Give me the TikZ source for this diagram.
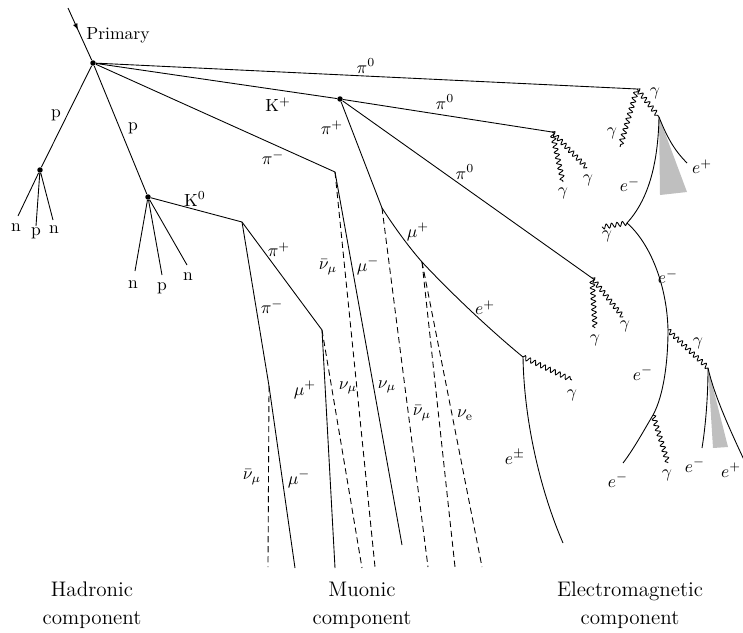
\documentclass[tikz,border=0pt]{standalone}
\usetikzlibrary{arrows.meta,decorations.pathmorphing,decorations.markings}

\tikzset{
  vtx/.style={fill,circle,inner sep=1.1pt},
  photon/.style={decorate,decoration={snake,segment length=3.1pt,amplitude=1.3pt}},
  neutrino/.style={dash pattern=on 3.5pt off 2.2pt},
  shower/.style={fill=black!25,draw=none},
  comp/.style={font=\large,align=center},
}

\begin{document}
\begin{tikzpicture}[x=0.02cm,y=-0.02cm,line width=0.5pt]
\useasboundingbox (0,0) rectangle (743,632);

% The interaction points
\coordinate (beam) at (68,8);
\node[vtx] (prim) at (93,63) {};
\node[vtx] (pl) at (40,170) {};
\node[vtx] (pr) at (148,197) {};
\node[vtx] (kp) at (340,99) {};
\coordinate (kz) at (242,222);
\coordinate (pimA) at (335,172);
\coordinate (pimB) at (269,386);
\coordinate (pipB) at (322,330);
\coordinate (pipK) at (382,208);
\coordinate (mudec) at (422,262);
\coordinate (edec) at (523,357);
\coordinate (pzA) at (637,89);
\coordinate (pzB) at (552,132);
\coordinate (pzC) at (592,278);
\coordinate (convA) at (659,117);
\coordinate (convB) at (708,368);
\coordinate (bremA) at (627,223);
\coordinate (bremB) at (668,330);
\coordinate (bremC) at (653,415);

% Free ends
\coordinate (nlA) at (18,216);  \coordinate (plB) at (36,226);  \coordinate (nlC) at (53,220);
\coordinate (nrA) at (135,271); \coordinate (prB) at (162,275); \coordinate (nrC) at (187,265);
\coordinate (muA) at (402,545); \coordinate (muB) at (335,568); \coordinate (muC) at (295,568);
\coordinate (nuA) at (375,567); \coordinate (nuB) at (362,568); \coordinate (nuC) at (268,567);
\coordinate (nuD) at (428,567); \coordinate (nuE) at (455,567); \coordinate (nuF) at (482,567);
\coordinate (epmEnd) at (563,543);
\coordinate (gA) at (620,147); \coordinate (gB) at (563,182); \coordinate (gC) at (587,168);
\coordinate (gD) at (595,328); \coordinate (gE) at (623,317); \coordinate (gF) at (602,227);
\coordinate (gG) at (668,463); \coordinate (gH) at (572,380);
\coordinate (epA) at (687,163); \coordinate (emA) at (623,463);
\coordinate (emB) at (702,448); \coordinate (epB) at (745,462);

% Showers
\fill[shower] (convA) -- (660,195) -- (687,192) -- cycle;
\fill[shower] (convB) -- (713,448) -- (728,447) -- cycle;

% Primary particle
\draw[postaction={decorate},decoration={markings,
  mark=at position 0.42 with {\arrow{Latex[length=3.6pt,width=2.8pt]}}}]
  (beam) -- (prim);

% Hadronic part
\draw (prim) -- (pl);
\draw (prim) -- (pr);
\draw (pl) -- (nlA) (pl) -- (plB) (pl) -- (nlC);
\draw (pr) -- (nrA) (pr) -- (prB) (pr) -- (nrC);
\draw (pr) -- (kz);
\draw (kz) -- (pipB);
\draw (kz) -- (pimB) -- (muC);
\draw (pipB) -- (muB);

% Pions and kaon from the first vertex
\draw (prim) -- (pzA);
\draw (prim) -- (kp);
\draw (prim) -- (pimA) -- (muA);
\draw (kp) -- (pzB);
\draw (kp) -- (pzC);
\draw (kp) -- (pipK);
\draw (pipK) .. controls (395,228) and (408,246) .. (mudec)
  .. controls (450,292) and (490,330) .. (edec);
\draw (edec) .. controls (524,420) and (540,490) .. (epmEnd);

% Neutrinos
\draw[neutrino] (pimA) -- (nuA);
\draw[neutrino] (pipB) -- (nuB);
\draw[neutrino] (pimB) -- (nuC);
\draw[neutrino] (pipK) -- (nuD);
\draw[neutrino] (mudec) -- (nuE);
\draw[neutrino] (mudec) -- (nuF);

% Photons
\draw[photon] (pzA) -- (convA);
\draw[photon] (pzA) -- (gA);
\draw[photon] (pzB) -- (gB);
\draw[photon] (pzB) -- (gC);
\draw[photon] (pzC) -- (gD);
\draw[photon] (pzC) -- (gE);
\draw[photon] (bremA) -- (gF);
\draw[photon] (bremB) -- (convB);
\draw[photon] (bremC) -- (gG);
\draw[photon] (edec) -- (gH);

% Electromagnetic cascade
\draw (convA) .. controls (668,140) and (676,152) .. (epA);
\draw (convA) .. controls (658,165) and (648,200) .. (bremA)
  .. controls (650,243) and (667,285) .. (bremB)
  .. controls (668,360) and (664,395) .. (bremC)
  .. controls (643,432) and (633,450) .. (emA);
\draw (convB) .. controls (708,400) and (705,430) .. (emB);
\draw (convB) .. controls (714,395) and (730,430) .. (epB);

% Labels
\node (tPrim) at (118,35) {Primary};
\node (tpL) at (56,115) {$\mathrm{p}$};
\node (tpR) at (133,128) {$\mathrm{p}$};
\node (tnlA) at (16,228) {$\mathrm{n}$};
\node (tplB) at (36,233) {$\mathrm{p}$};
\node (tnlC) at (54,230) {$\mathrm{n}$};
\node (tnrA) at (133,285) {$\mathrm{n}$};
\node (tprB) at (162,288) {$\mathrm{p}$};
\node (tnrC) at (188,277) {$\mathrm{n}$};
\node (tKz) at (195,199) {$\mathrm{K}^0$};
\node (tKp) at (278,105) {$\mathrm{K}^+$};
\node (tpzA) at (366,66) {$\pi^0$};
\node (tpzB) at (445,102) {$\pi^0$};
\node (tpzC) at (465,172) {$\pi^0$};
\node (tpipK) at (332,128) {$\pi^+$};
\node (tpimA) at (273,158) {$\pi^-$};
\node (tpipB) at (279,250) {$\pi^+$};
\node (tpimB) at (272,307) {$\pi^-$};
\node (tnubA) at (328,267) {$\bar\nu_\mu$};
\node (tmumA) at (368,266) {$\mu^-$};
\node (tmupK) at (418,232) {$\mu^+$};
\node (tepK) at (485,308) {$e^+$};
\node (tmupB) at (305,390) {$\mu^+$};
\node (tnuB) at (348,388) {$\nu_\mu$};
\node (tnuD) at (387,387) {$\nu_\mu$};
\node (tnubE) at (422,413) {$\bar\nu_\mu$};
\node (tnueF) at (465,415) {$\nu_\mathrm{e}$};
\node (tnubC) at (252,477) {$\bar\nu_\mu$};
\node (tmumC) at (299,479) {$\mu^-$};
\node (tepm) at (515,457) {$e^\pm$};
\node (tgA) at (612,133) {$\gamma$};
\node (tgConvA) at (655,93) {$\gamma$};
\node (tgB) at (563,193) {$\gamma$};
\node (tgC) at (588,180) {$\gamma$};
\node (tgD) at (595,340) {$\gamma$};
\node (tgE) at (625,326) {$\gamma$};
\node (tgF) at (607,236) {$\gamma$};
\node (tgConvB) at (698,343) {$\gamma$};
\node (tgG) at (667,475) {$\gamma$};
\node (tgH) at (572,395) {$\gamma$};
\node (tepA) at (702,167) {$e^+$};
\node (temA) at (630,185) {$e^-$};
\node (temB) at (668,277) {$e^-$};
\node (temC) at (643,373) {$e^-$};
\node (temD) at (618,480) {$e^-$};
\node (temE) at (695,465) {$e^-$};
\node (tepB) at (731,470) {$e^+$};

% Components
\node[comp] (had) at (92,605) {Hadronic\\[2pt]component};
\node[comp] (muo) at (362,605) {Muonic\\[2pt]component};
\node[comp] (elm) at (630,605) {Electromagnetic\\[2pt]component};
\end{tikzpicture}
\end{document}
